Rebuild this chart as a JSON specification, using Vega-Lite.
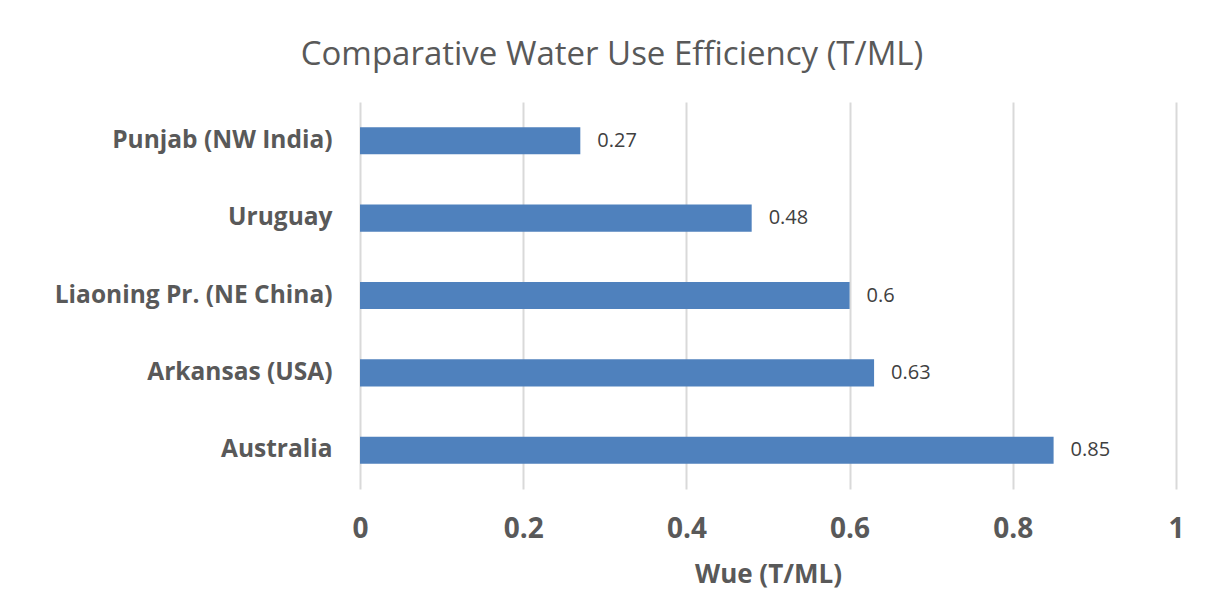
{
  "$schema": "https://vega.github.io/schema/vega-lite/v6.json",
  "width": 816,
  "height": 387,
  "autosize": {"type": "none"},
  "padding": {"left": 360, "top": 102, "right": 39, "bottom": 105},
  "background": "white",
  "config": {
    "font": "Open Sans",
    "view": {"stroke": null}
  },
  "title": {
    "text": "Comparative Water Use Efficiency (T/ML)",
    "font": "Open Sans",
    "fontSize": 33,
    "fontWeight": "normal",
    "color": "#595959",
    "anchor": "middle",
    "dx": -156,
    "offset": 30
  },
  "data": {
    "values": [
      {"region": "Punjab (NW India)", "wue": 0.27},
      {"region": "Uruguay", "wue": 0.48},
      {"region": "Liaoning Pr. (NE China)", "wue": 0.6},
      {"region": "Arkansas (USA)", "wue": 0.63},
      {"region": "Australia", "wue": 0.85}
    ]
  },
  "encoding": {
    "y": {
      "field": "region",
      "type": "nominal",
      "sort": ["Punjab (NW India)", "Uruguay", "Liaoning Pr. (NE China)", "Arkansas (USA)", "Australia"],
      "scale": {"paddingInner": 0.65, "paddingOuter": 0.325},
      "axis": {
        "title": null,
        "ticks": false,
        "domain": false,
        "labelFont": "Open Sans",
        "labelFontSize": 24.5,
        "labelFontWeight": "bold",
        "labelColor": "#595959",
        "labelPadding": 28,
        "labelLimit": 400
      }
    },
    "x": {
      "field": "wue",
      "type": "quantitative",
      "scale": {"domain": [0, 1], "nice": false},
      "axis": {
        "title": "Wue (T/ML)",
        "titleFont": "Open Sans",
        "titleFontSize": 26,
        "titleFontWeight": "bold",
        "titleColor": "#595959",
        "titlePadding": 18,
        "values": [0, 0.2, 0.4, 0.6, 0.8, 1],
        "format": "~g",
        "grid": true,
        "gridColor": "#D9D9D9",
        "gridWidth": 2,
        "ticks": false,
        "domain": false,
        "labelFlush": false,
        "labelFont": "Open Sans",
        "labelFontSize": 28,
        "labelFontWeight": "bold",
        "labelColor": "#595959",
        "labelPadding": 26
      }
    }
  },
  "layer": [
    {
      "mark": {"type": "bar", "color": "#4F81BD"}
    },
    {
      "mark": {"type": "text", "align": "left", "dx": 17, "fontSize": 20, "color": "#404040", "font": "Open Sans"},
      "encoding": {
        "text": {"field": "wue", "type": "quantitative", "format": "~g"}
      }
    }
  ]
}
